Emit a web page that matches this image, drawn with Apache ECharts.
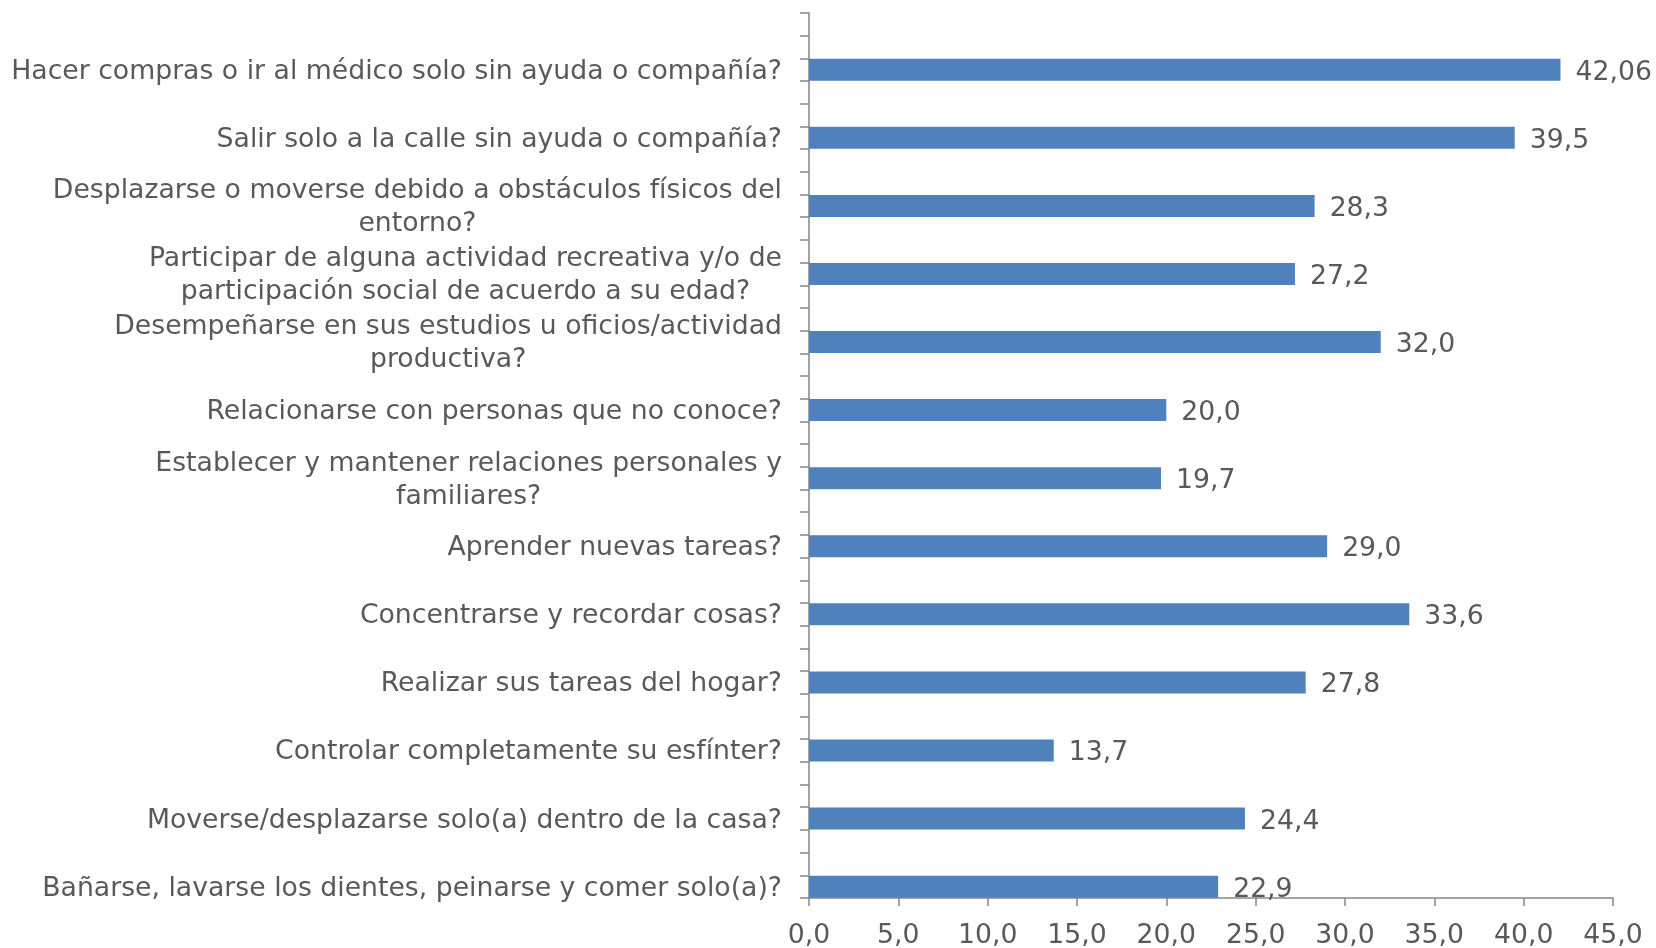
<!DOCTYPE html>
<html>
<head>
<meta charset="utf-8">
<script src="https://cdn.jsdelivr.net/npm/echarts@6/dist/echarts.min.js"></script>
<style>html,body{margin:0;padding:0;background:#fff}#c{width:1656px;height:948px}</style>
</head>
<body>
<div id="c"></div>
<script>
const categories = [
  "Hacer compras o ir al médico solo sin ayuda o compañía?",
  "Salir solo a la calle sin ayuda o compañía?",
  "Desplazarse o moverse debido a obstáculos físicos del\nentorno?",
  "Participar de alguna actividad recreativa y/o de\nparticipación social de acuerdo a su edad?",
  "Desempeñarse en sus estudios u oficios/actividad\nproductiva?",
  "Relacionarse con personas que no conoce?",
  "Establecer y mantener relaciones personales y\nfamiliares?",
  "Aprender nuevas tareas?",
  "Concentrarse y recordar cosas?",
  "Realizar sus tareas del hogar?",
  "Controlar completamente su esfínter?",
  "Moverse/desplazarse solo(a) dentro de la casa?",
  "Bañarse, lavarse los dientes, peinarse y comer solo(a)?"
];
const values = [42.06, 39.5, 28.3, 27.2, 32.0, 20.0, 19.7, 29.0, 33.6, 27.8, 13.7, 24.4, 22.9];
const xTicks = { min: 0, max: 45, interval: 5 };

// Each category occupies three sub-slots on the axis; the bar sits in the last one.
const axisData = [];
const barData = [];
categories.forEach((c, i) => {
  axisData.push('', '', c);
  barData.push('-', '-', values[i]);
});

const FONT = 'DejaVu Sans';
const FS = 26.7;
const TXT = '#595959';
const AX = '#868686';
const fmtVal = v => (Math.round(v * 10) === v * 10 ? v.toFixed(1) : v.toFixed(2)).replace('.', ',');

const chart = echarts.init(document.getElementById('c'), null, { renderer: 'canvas' });
chart.setOption({
  animation: false,
  backgroundColor: '#ffffff',
  grid: { left: 809, right: 43, top: 13, bottom: 50, containLabel: false, outerBoundsMode: 'none' },
  xAxis: {
    type: 'value', min: xTicks.min, max: xTicks.max, interval: xTicks.interval,
    splitLine: { show: false },
    axisLine: { show: true, lineStyle: { color: AX, width: 1.5 } },
    axisTick: { show: true, length: 8, lineStyle: { color: AX, width: 1.5 } },
    axisLabel: { color: TXT, fontFamily: FONT, fontSize: FS, margin: 25, formatter: v => v.toFixed(1).replace('.', ',') }
  },
  yAxis: {
    type: 'category', inverse: true, data: axisData,
    axisLine: { show: true, lineStyle: { color: AX, width: 1.5 } },
    axisTick: { show: true, length: 9, interval: 0, lineStyle: { color: AX, width: 1.5 } },
    axisLabel: {
      interval: 0, color: TXT, fontFamily: FONT, fontSize: FS, margin: 27, align: 'right',
      lineHeight: 33, padding: [4, 0, 0, 0],
      formatter: v => v ? v.split('\n').map(l => '{c|' + l + '}').join('\n') : '',
      rich: { c: { align: 'center', color: TXT, fontFamily: FONT, fontSize: FS, lineHeight: 33 } }
    }
  },
  series: [{
    type: 'bar', data: barData, barCategoryGap: '0%', barWidth: 22,
    itemStyle: { color: '#4F81BD' },
    label: { show: true, position: 'right', distance: 15, offset: [0, 3], color: TXT, fontFamily: FONT, fontSize: FS, formatter: p => fmtVal(p.value) }
  }]
});
</script>
</body>
</html>
